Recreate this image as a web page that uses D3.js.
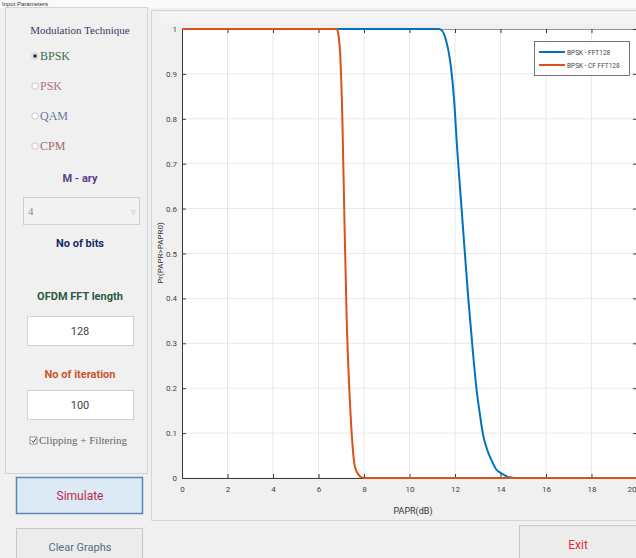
<!DOCTYPE html>
<html><head><meta charset="utf-8">
<script src="https://cdn.jsdelivr.net/npm/d3@7"></script>
<style>
html,body{margin:0;padding:0;background:#fff;}
svg{display:block;}
</style></head>
<body>
<svg id="c" width="636" height="558"></svg>
<script>
// ---- data ----
const blueX = [0, 11.3, 11.45, 11.6, 11.78, 11.96, 12.1, 12.26, 12.42, 12.59, 12.78, 12.95, 13.1, 13.22, 13.4, 13.6, 13.8, 14.05, 14.3, 14.6, 20];
const blueY = [1, 1, 0.995, 0.976, 0.931, 0.842, 0.73, 0.62, 0.51, 0.396, 0.285, 0.196, 0.14, 0.10, 0.065, 0.04, 0.02, 0.01, 0.003, 0, 0];
const redX = [0, 6.8, 6.88, 6.95, 7.05, 7.14, 7.24, 7.35, 7.47, 7.6, 7.75, 7.9, 8.05, 20];
const redY = [1, 1, 0.985, 0.947, 0.797, 0.575, 0.352, 0.203, 0.091, 0.025, 0.008, 0.001, 0, 0];
const seriesNames = ["BPSK - FFT128", "BPSK - CF FFT128"];
const seriesColors = ["#0072BD", "#D95319"];
const xTicks = [0, 2, 4, 6, 8, 10, 12, 14, 16, 18, 20];
const yTicks = [0, 0.1, 0.2, 0.3, 0.4, 0.5, 0.6, 0.7, 0.8, 0.9, 1];
const xLabel = "PAPR(dB)";
const yLabel = "Pr(PAPR>PAPR0)";

const svg = d3.select("#c");
// background
svg.append("rect").attr("width",636).attr("height",558).attr("fill","#f0f0f0");
svg.append("rect").attr("x",0).attr("y",0).attr("width",636).attr("height",8).attr("fill","#fafafa");

// ---- left control panel ----
const lp = svg.append("g");
lp.append("rect").attr("x",5.5).attr("y",7.5).attr("width",142).attr("height",466).attr("fill","none").attr("stroke","#d4d4d4");
lp.append("text").attr("x",2).attr("y",6).attr("font-size",6).attr("font-family","Liberation Sans Narrow, Arial Narrow, sans-serif").attr("fill","#333").text("Input Parameters");
const serif = "Liberation Serif, DejaVu Serif, serif";
const narrow = "Liberation Sans Narrow, Arial Narrow, Roboto, sans-serif";
lp.append("text").attr("x",80).attr("y",34).attr("text-anchor","middle").attr("font-family",serif).attr("font-size",11).attr("fill","#4a3560").text("Modulation Technique");
const radios = [["BPSK",60,"#3d6b4a",true],["PSK",90,"#b07080",false],["QAM",120,"#6a7a9a",false],["CPM",150,"#a06a6a",false]];
radios.forEach(r=>{
  lp.append("circle").attr("cx",35).attr("cy",r[1]-4).attr("r",3.2).attr("fill","#fff").attr("stroke","#bbb").attr("stroke-width",0.8);
  if(r[3]) lp.append("circle").attr("cx",35).attr("cy",r[1]-4).attr("r",1.8).attr("fill","#222");
  lp.append("text").attr("x",40).attr("y",r[1]).attr("font-family",serif).attr("font-size",12).attr("fill",r[2]).text(r[0]);
});
lp.append("text").attr("x",80).attr("y",182).attr("text-anchor","middle").attr("font-family",narrow).attr("font-weight","bold").attr("font-size",11).attr("fill","#5a3f8a").text("M - ary");
lp.append("rect").attr("x",23.5).attr("y",197.5).attr("width",116).attr("height",27).attr("fill","#f3f3f3").attr("stroke","#cfcfcf");
lp.append("text").attr("x",28).attr("y",215).attr("font-family",serif).attr("font-size",11).attr("fill","#888").text("4");
lp.append("text").attr("x",131).attr("y",215).attr("font-family",narrow).attr("font-size",9).attr("fill","#bbb").text("▿");
lp.append("text").attr("x",80).attr("y",247).attr("text-anchor","middle").attr("font-family",narrow).attr("font-weight","bold").attr("font-size",11).attr("fill","#1e2a6a").text("No of bits");
lp.append("text").attr("x",80).attr("y",300).attr("text-anchor","middle").attr("font-family",narrow).attr("font-weight","bold").attr("font-size",11).attr("fill","#2d5a44").text("OFDM FFT length");
lp.append("rect").attr("x",27.5).attr("y",316.5).attr("width",106).attr("height",29).attr("fill","#fff").attr("stroke","#d0d0d0");
lp.append("text").attr("x",80).attr("y",335).attr("text-anchor","middle").attr("font-family",narrow).attr("font-size",11).attr("fill","#444").text("128");
lp.append("text").attr("x",80).attr("y",378).attr("text-anchor","middle").attr("font-family",narrow).attr("font-weight","bold").attr("font-size",11).attr("fill","#c8552e").text("No of iteration");
lp.append("rect").attr("x",27.5).attr("y",390.5).attr("width",106).attr("height",29).attr("fill","#fff").attr("stroke","#d0d0d0");
lp.append("text").attr("x",80).attr("y",409).attr("text-anchor","middle").attr("font-family",narrow).attr("font-size",11).attr("fill","#444").text("100");
lp.append("rect").attr("x",30).attr("y",437).attr("width",7).attr("height",7).attr("fill","#fff").attr("stroke","#777").attr("stroke-width",0.8);
lp.append("path").attr("d","M31.5,440.5 L33.5,442.5 L36,438.5").attr("fill","none").attr("stroke","#333").attr("stroke-width",1);
lp.append("text").attr("x",39).attr("y",444).attr("font-family",serif).attr("font-size",11).attr("fill","#666").text("Clipping + Filtering");
// buttons
lp.append("rect").attr("x",16.5).attr("y",477.5).attr("width",126).attr("height",36).attr("fill","#dceaf6").attr("stroke","#5d86b0").attr("stroke-width",1.5);
lp.append("text").attr("x",80).attr("y",500).attr("text-anchor","middle").attr("font-family",narrow).attr("font-size",12).attr("fill","#c0284a").text("Simulate");
lp.append("rect").attr("x",16.5).attr("y",528.5).attr("width",126).attr("height",36).attr("fill","#ececec").attr("stroke","#c8c8c8");
lp.append("text").attr("x",80).attr("y",551).attr("text-anchor","middle").attr("font-family",narrow).attr("font-size",11).attr("fill","#5a6a80").text("Clear Graphs");
lp.append("rect").attr("x",519.5).attr("y",525.5).attr("width",120).attr("height",40).attr("fill","#ececec").attr("stroke","#c8c8c8");
lp.append("text").attr("x",578).attr("y",549).attr("text-anchor","middle").attr("font-family",narrow).attr("font-size",12).attr("fill","#e0303a").text("Exit");

// ---- plot panel ----
svg.append("rect").attr("x",151.5).attr("y",10.5).attr("width",490).attr("height",510).attr("fill","#f0f0f0").attr("stroke","#d6d6d6");
svg.append("rect").attr("x",160).attr("y",12).attr("width",476).attr("height",12).attr("fill","#f5f5f5");

const x = d3.scaleLinear().domain([0,20]).range([182,637]);
const y = d3.scaleLinear().domain([0,1]).range([478,29]);
const g = svg.append("g");
g.append("rect").attr("x",x(0)).attr("y",y(1)).attr("width",x(20)-x(0)).attr("height",y(0)-y(1)).attr("fill","#fff");
// grid
g.selectAll(".gx").data(xTicks).join("line").attr("x1",d=>x(d)).attr("x2",d=>x(d)).attr("y1",y(0)).attr("y2",y(1)).attr("stroke","#e8e8e8");
g.selectAll(".gy").data(yTicks).join("line").attr("x1",x(0)).attr("x2",x(20)).attr("y1",d=>y(d)).attr("y2",d=>y(d)).attr("stroke","#e8e8e8");
// axes
const fmt = d=>d3.format("~g")(d);
const xa = g.append("g").attr("transform",`translate(0,${y(0)})`).call(d3.axisBottom(x).tickValues(xTicks).tickFormat(fmt).tickSizeInner(-4).tickSizeOuter(0).tickPadding(8));
const xt = g.append("g").attr("transform",`translate(0,${y(1)})`).call(d3.axisTop(x).tickValues(xTicks).tickFormat("").tickSizeInner(-4).tickSizeOuter(0));
const ya = g.append("g").attr("transform",`translate(${x(0)},0)`).call(d3.axisLeft(y).tickValues(yTicks).tickFormat(fmt).tickSizeInner(-4).tickSizeOuter(0).tickPadding(5));
const yr = g.append("g").attr("transform",`translate(${x(20)},0)`).call(d3.axisRight(y).tickValues(yTicks).tickFormat("").tickSizeInner(-4).tickSizeOuter(0));
[xa,xt,ya,yr].forEach(a=>{
  a.selectAll("path").attr("stroke","#3a3a3a");
  a.selectAll("line").attr("stroke","#3a3a3a");
  a.selectAll("text").attr("fill","#444").attr("font-size",8).attr("font-family",narrow);
});
xa.selectAll(".tick text").filter(d=>d===20).attr("text-anchor","end").attr("dx",-1);
xt.select("path").attr("stroke","#999"); yr.select("path").attr("stroke","#999");
g.append("text").attr("x",413).attr("y",514).attr("text-anchor","middle").attr("font-family",narrow).attr("font-size",9).attr("fill","#333").text(xLabel);
g.append("text").attr("transform","translate(163,253) rotate(-90)").attr("text-anchor","middle").attr("font-family",narrow).attr("font-size",8).attr("fill","#333").text(yLabel);

// lines
const line = d3.line().x(d=>x(d[0])).y(d=>y(d[1])).curve(d3.curveMonotoneX);
const bd = blueX.map((v,i)=>[v,blueY[i]]);
const rd = redX.map((v,i)=>[v,redY[i]]);
g.append("path").datum(bd).attr("d",line).attr("fill","none").attr("stroke",seriesColors[0]).attr("stroke-width",2);
g.append("path").datum(rd).attr("d",line).attr("fill","none").attr("stroke",seriesColors[1]).attr("stroke-width",2);

// legend
const lg = g.append("g");
lg.append("rect").attr("x",534.5).attr("y",41.5).attr("width",95).attr("height",34).attr("fill","#fff").attr("stroke","#555").attr("stroke-width",0.8);
seriesNames.forEach((n,i)=>{
  const yy = 52 + i*13;
  lg.append("line").attr("x1",539).attr("x2",565).attr("y1",yy).attr("y2",yy).attr("stroke",seriesColors[i]).attr("stroke-width",2);
  lg.append("text").attr("x",567).attr("y",yy+2.5).attr("font-family",narrow).attr("font-size",6.5).attr("fill","#444").text(n);
});
</script>
</body></html>
